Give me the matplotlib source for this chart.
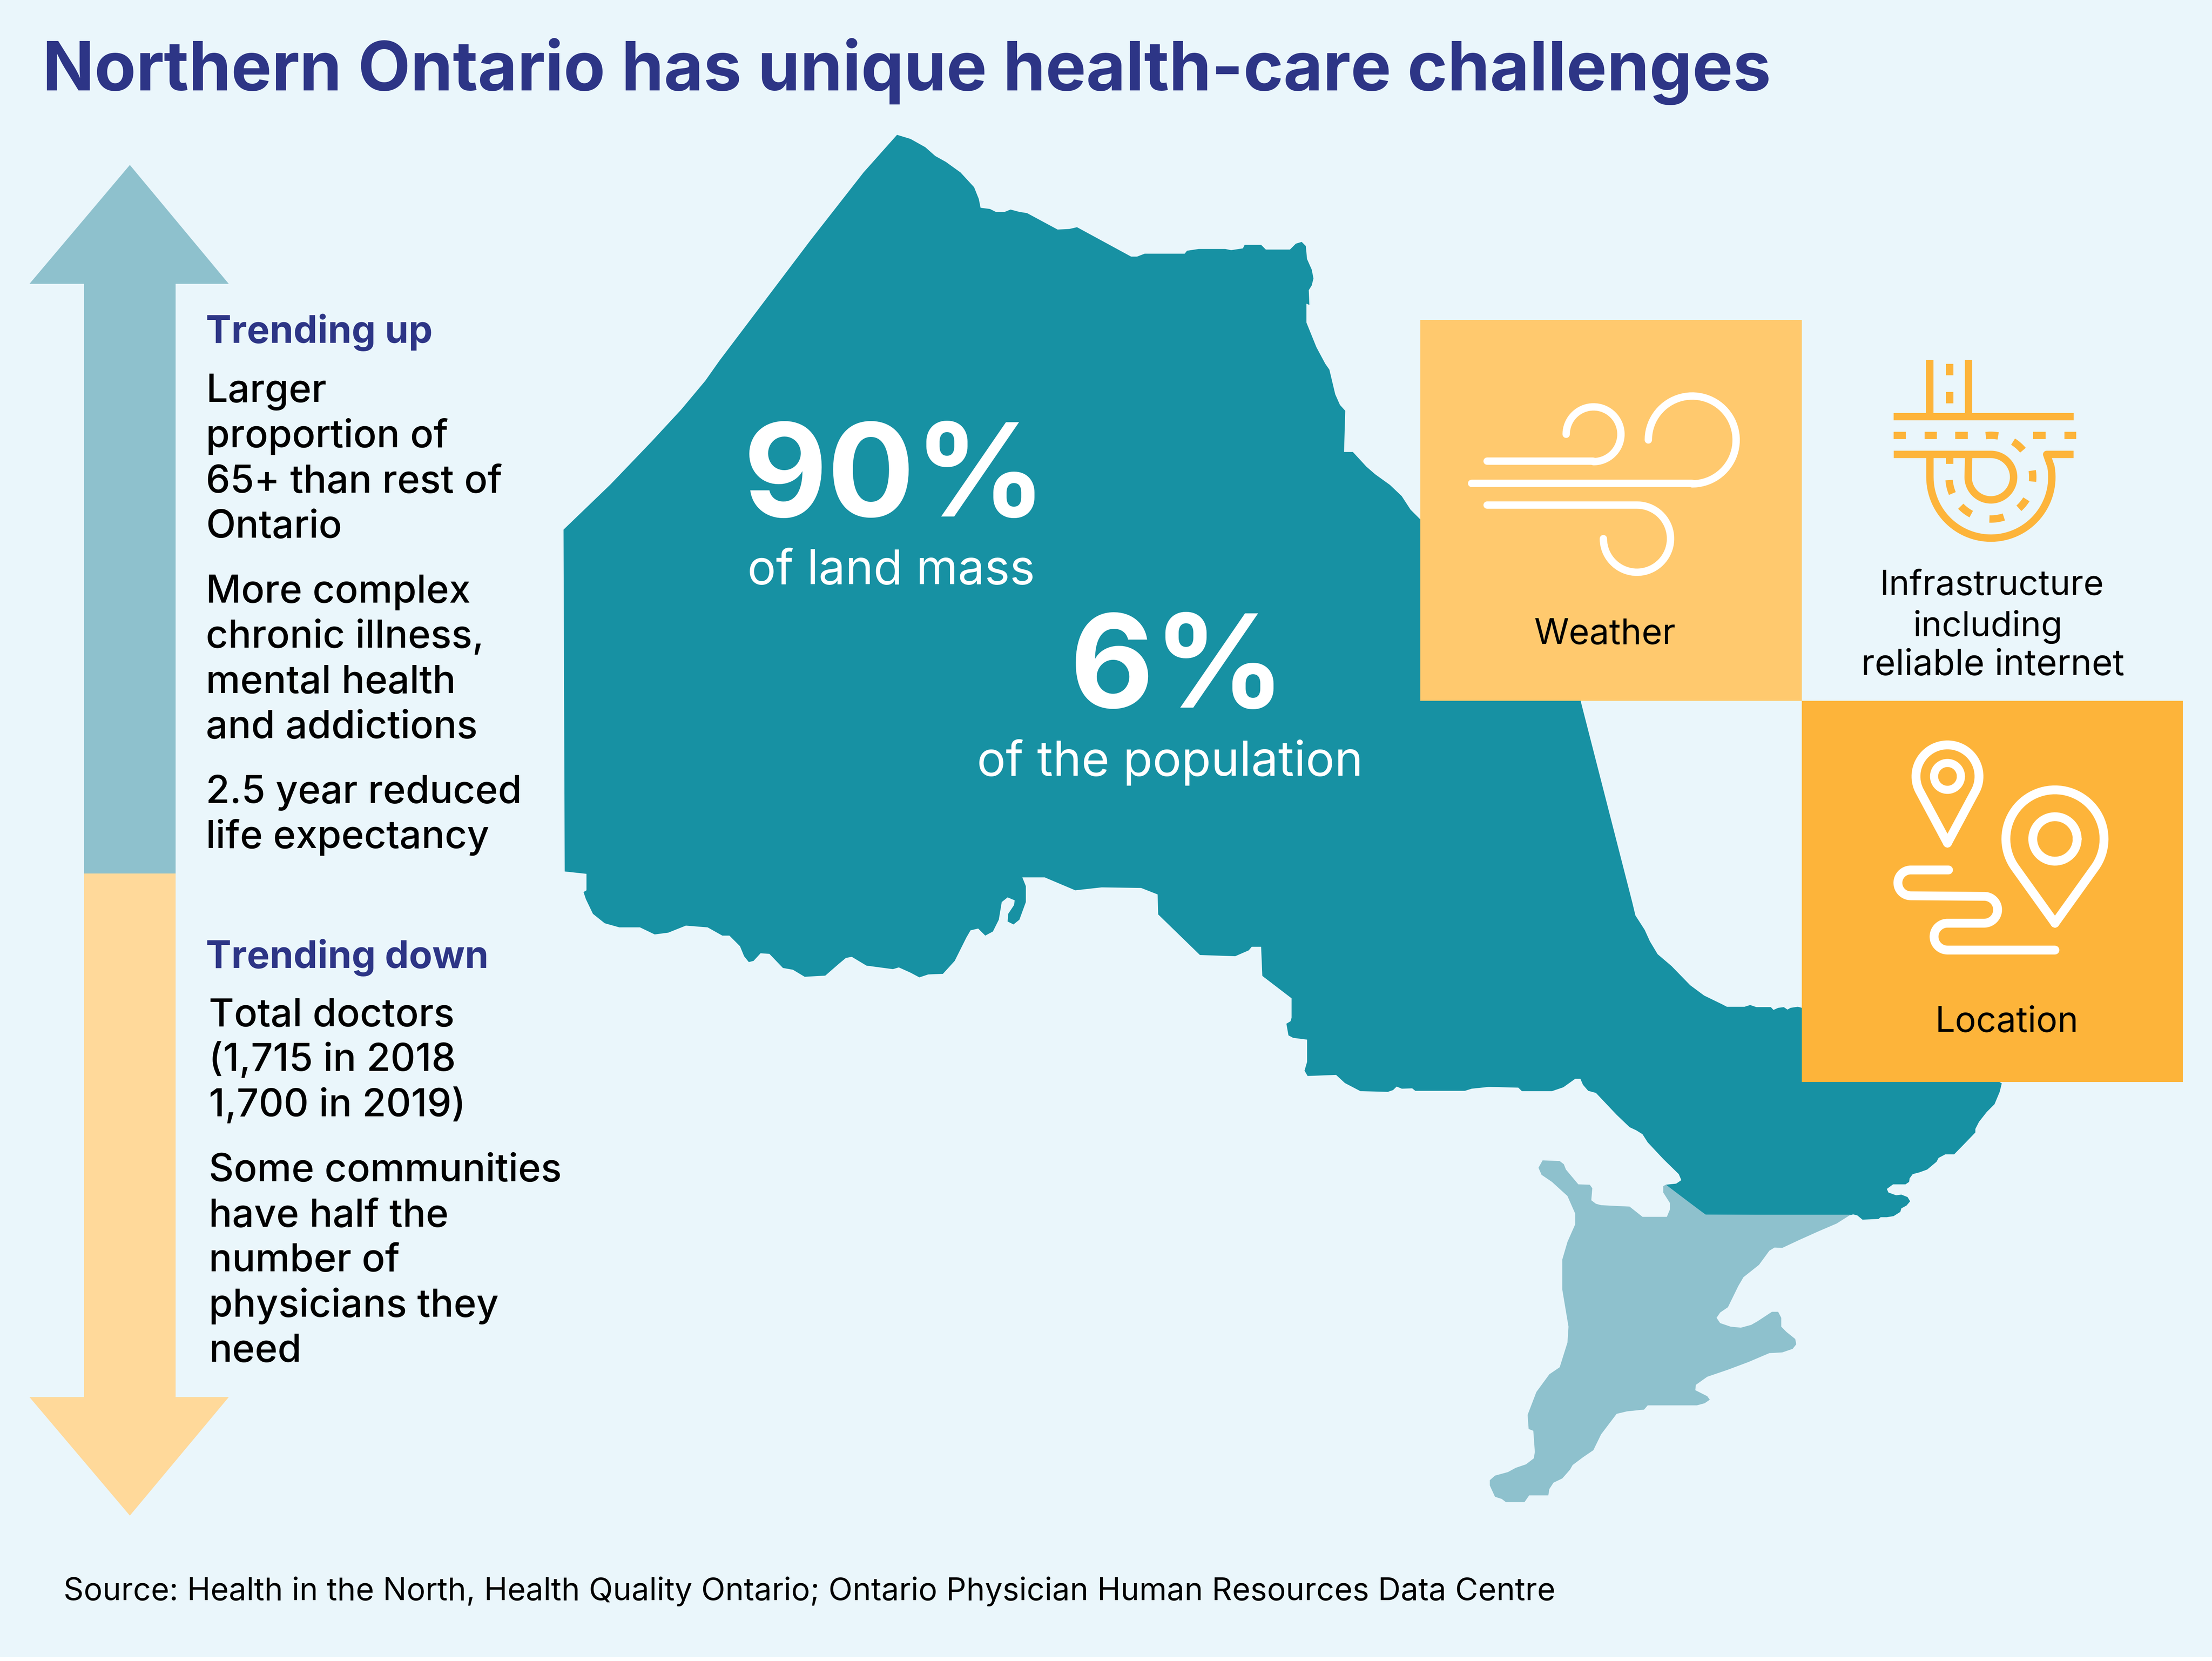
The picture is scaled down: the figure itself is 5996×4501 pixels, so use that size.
import matplotlib
matplotlib.use('Agg')
import matplotlib.pyplot as plt
import numpy as np
from matplotlib.patches import Polygon, Rectangle

BG = '#EAF6FB'
TEAL = '#1791A3'
PALE_TEAL = '#8EC1CD'
PALE_ORANGE = '#FFD99A'
LIGHT_ORANGE = '#FFC96E'
ORANGE = '#FDB43A'
NAVY = '#2D3586'

plt.rcParams['font.family'] = ['Inter', 'Lato', 'DejaVu Sans']

NORTH_WEST = [
    (647, 41), (670, 48), (695, 62), (712, 77), (730, 87), (755, 105), (778, 130), (786, 150),
    (789, 165), (805, 167), (815, 172), (830, 172), (840, 168), (855, 172), (868, 174), (920, 202),
    (940, 201), (953, 198), (1045, 248), (1055, 248), (1068, 243), (1136, 243), (1140, 238),
    (1160, 235), (1205, 235), (1215, 237), (1235, 234), (1238, 228), (1266, 228), (1274, 236),
    (1315, 236), (1325, 226), (1335, 223), (1342, 230), (1344, 252), (1352, 270), (1355, 285),
    (1352, 297), (1347, 305), (1348, 330), (1343, 328), (1343, 360), (1360, 402), (1375, 430),
    (1382, 440), (1392, 482), (1400, 500), (1409, 510), (1407, 580), (1422, 580), (1445, 605),
    (1460, 618), (1485, 636), (1505, 655), (1520, 678), (1537, 695), (1600, 800), (1820, 1000),
]
NORTH_EAST_COAST = [
    (346, 785), (446, 1175), (452, 1200), (470, 1228), (480, 1250), (495, 1275), (522, 1298),
    (558, 1335), (585, 1355), (620, 1372),
]
NORTH_SOUTH_COAST = [
    (913, 134), (947, 134), (958, 129), (970, 135), (998, 135),
    (1003, 143), (1012, 137), (1023, 135), (1030, 142), (1036, 137), (1050, 134), (1058, 137),
    (1200, 137), (1444, 351), (1440, 375), (1430, 410), (1415, 432), (1400, 460), (1393, 480),
    (1393, 490), (1370, 525), (1352, 552), (1335, 552), (1322, 562), (1318, 573), (1300, 595),
    (1285, 603), (1272, 608), (1266, 620), (1265, 630), (1258, 637), (1234, 637), (1222, 650),
    (1225, 660), (1240, 668), (1250, 666), (1262, 673), (1267, 685), (1260, 697), (1250, 705),
    (1248, 715), (1235, 727), (1222, 730), (1210, 730), (1206, 735), (1175, 737), (1165, 725),
    (1157, 722), (1152, 724), (872, 723), (850, 700), (795, 638), (815, 635), (825, 625),
    (820, 608), (790, 565), (760, 518), (750, 495), (738, 484), (725, 475), (700, 440), (660, 378),
    (645, 372), (635, 355), (630, 338), (620, 338), (597, 362), (575, 373), (517, 373), (510, 363),
    (453, 361), (420, 366), (407, 372), (311, 372), (305, 365), (285, 366), (275, 360), (268, 370),
    (258, 375), (205, 373), (175, 350), (158, 327), (103, 330), (97, 315), (102, 290), (102, 227),
    (75, 222), (66, 215), (62, 182), (70, 175), (72, 165), (72, 110), (16, 47), (15, 0),
]
NORTH_LAKE_COAST = [
    (1318, 1508), (1268, 1470), (1266, 1421), (1250, 1421), (1245, 1427), (1222, 1437), (1162, 1435),
    (1091, 1366), (1090, 1332), (1062, 1321), (995, 1320), (950, 1325), (898, 1303), (860, 1303),
    (866, 1318), (866, 1345), (855, 1375), (845, 1383), (835, 1378), (836, 1365), (846, 1350),
    (847, 1342), (835, 1337), (825, 1345), (820, 1375), (810, 1395), (797, 1402), (785, 1390),
    (772, 1393), (765, 1405), (745, 1445), (725, 1467), (700, 1468), (685, 1473), (670, 1465),
    (650, 1456), (640, 1459), (595, 1453), (570, 1438), (560, 1440), (548, 1450), (525, 1470),
    (490, 1472), (470, 1460), (453, 1457), (430, 1433), (415, 1432), (403, 1445), (395, 1447),
    (387, 1437), (380, 1420), (362, 1402), (350, 1402), (325, 1388), (288, 1385), (258, 1397),
    (235, 1400), (210, 1388), (175, 1388), (150, 1381), (130, 1365), (118, 1340), (114, 1328),
    (119, 1325), (119, 1297), (82, 1293), (80, 712), (160, 635), (230, 562), (280, 508), (321, 459),
    (345, 425), (500, 220), (590, 105),
]
SOUTH = [
    (557, 569), (590, 571), (598, 580), (602, 595), (626, 637), (648, 638), (653, 648), (651, 682),
    (660, 692), (670, 696), (725, 700), (750, 729), (797, 729), (803, 708), (803, 690), (790, 660),
    (790, 642), (795, 638), (872, 723), (1152, 723), (1125, 748), (1090, 770), (1052, 795),
    (1020, 817), (1005, 816), (995, 825), (975, 865), (945, 900), (935, 925), (915, 985), (900, 1000),
    (893, 1015), (900, 1030), (920, 1040), (940, 1043), (960, 1035), (972, 1025), (1000, 998),
    (1012, 998), (1018, 1015), (1018, 1040), (1028, 1055), (1045, 1075), (1047, 1090), (1040, 1103),
    (1020, 1113), (995, 1115), (955, 1140), (915, 1162), (875, 1182), (853, 1205), (852, 1220),
    (875, 1237), (880, 1247), (870, 1257), (855, 1263), (760, 1263), (753, 1275), (720, 1280),
    (700, 1287), (670, 1345), (655, 1390), (635, 1410), (615, 1432), (610, 1445), (595, 1470),
    (578, 1482), (570, 1500), (568, 1518), (531, 1518), (522, 1537), (486, 1537), (478, 1528),
    (465, 1522), (455, 1490), (455, 1475), (465, 1462), (490, 1452), (505, 1440), (525, 1430),
    (540, 1413), (542, 1395), (539, 1335), (530, 1330), (528, 1290), (545, 1225), (570, 1175),
    (590, 1155), (605, 1085), (607, 1040), (595, 935), (595, 850), (605, 800), (620, 750), (620, 720),
    (605, 670), (575, 630), (555, 610), (549, 590),
]

TITLE = 'Northern Ontario has unique health-care challenges'
UP_HEADING = 'Trending up'
UP_LINES = ['Larger', 'proportion of', '65+ than rest of', 'Ontario',
            'More complex', 'chronic illness,', 'mental health', 'and addictions',
            '2.5 year reduced', 'life expectancy']
UP_BASELINES = [285, 317, 349, 381, 427, 459, 491, 523, 569, 601]
DOWN_HEADING = 'Trending down'
DOWN_LINES = ['Total doctors', '(1,715 in 2018', '1,700 in 2019)',
              'Some communities', 'have half the', 'number of', 'physicians they', 'need']
DOWN_BASELINES = [727, 759, 791, 837, 869, 901, 933, 965]
SOURCE = 'Source: Health in the North, Health Quality Ontario; Ontario Physician Human Resources Data Centre'


def crop1(pts):
    return [(3800 + x / 0.714, 800 + y / 0.714) for x, y in pts]


def crop2(pts):
    return [(1400 + x / 0.6272, 300 + y / 0.6272) for x, y in pts]


def crop3(pts):
    # this crop came back stretched, x and y scales differ
    return [(3400 + x / 0.7127, 2600 + y / 1.0453) for x, y in pts]


def arc(cx, cy, r, a0, a1):
    # angles in degrees, y pointing down
    a = np.radians(np.linspace(a0, a1, 60))
    return list(zip(cx + r * np.cos(a), cy + r * np.sin(a)))


def stroke(ax, pts, color='white', lw=20, cap='round'):
    xy = np.array(crop1(pts))
    ax.plot(xy[:, 0], xy[:, 1], color=color, lw=lw * 0.72, solid_capstyle=cap,
            solid_joinstyle='round', zorder=5)


fig = plt.figure(figsize=(5996 / 100, 4501 / 100), dpi=100, facecolor='white')
ax = fig.add_axes([0, 0, 1, 1])
ax.set_xlim(0, 5996)
ax.set_ylim(4501, 0)
ax.axis('off')
ax.add_patch(Rectangle((0, 0), 5996, 4490, color=BG, lw=0, zorder=0))

# map
north = (crop2(NORTH_WEST) + crop1(NORTH_EAST_COAST) + crop3(NORTH_SOUTH_COAST)
         + crop2(NORTH_LAKE_COAST))
ax.add_patch(Polygon(north, closed=True, color=TEAL, lw=0, zorder=1))
ax.add_patch(Polygon(crop3(SOUTH), closed=True, color=PALE_TEAL, lw=0, zorder=1))

# arrow
ax.add_patch(Polygon([(352, 447), (620, 769), (476, 769), (476, 2367), (228, 2367), (228, 769), (80, 769)],
                     closed=True, color=PALE_TEAL, lw=0, zorder=2))
ax.add_patch(Polygon([(228, 2367), (476, 2367), (476, 3786), (620, 3786), (352, 4107), (80, 3786), (228, 3786)],
                     closed=True, color=PALE_ORANGE, lw=0, zorder=2))

# boxes
ax.add_patch(Rectangle((3850, 867), 1034, 1032, color=LIGHT_ORANGE, lw=0, zorder=3))
ax.add_patch(Rectangle((4884, 1899), 1033, 1033, color=ORANGE, lw=0, zorder=3))

# wind icon
stroke(ax, [(165, 321), (370, 321)] + arc(371, 269, 53, 90, -180))
stroke(ax, [(135, 364), (562, 364)] + arc(562, 280, 85, 90, -180))
stroke(ax, [(165, 406), (455, 406)] + arc(455, 471, 65, -90, 180))

# infrastructure icon
stroke(ax, [(1022, 125), (1022, 235)], ORANGE, cap='butt')
stroke(ax, [(1097, 125), (1097, 235)], ORANGE, cap='butt')
stroke(ax, [(952, 235), (1300, 235)], ORANGE, cap='butt')
stroke(ax, [(1060, 133), (1060, 155)], ORANGE, cap='butt')
stroke(ax, [(1060, 187), (1060, 209)], ORANGE, cap='butt')
stroke(ax, [(1060, 315), (1060, 326)], ORANGE, cap='butt')
for x0, x1 in [(952, 975), (1012, 1035), (1071, 1095), (1222, 1246), (1282, 1305)]:
    stroke(ax, [(x0, 271), (x1, 271)], ORANGE, cap='butt')
stroke(ax, [(952, 308), (1140, 308)] + arc(1140, 352, 44, -90, 180) + [(1097, 308)], ORANGE, cap='butt')
stroke(ax, [(1022, 308)] + arc(1140, 352, 118, 180, -10) + [(1248, 308), (1300, 308)], ORANGE, cap='butt')
for a0, a1 in [(-97, -80), (-58, -40), (-9, 6), (32, 48), (72, 92), (118, 136), (157, 176)]:
    stroke(ax, arc(1140, 352, 81, a0, a1), ORANGE, cap='butt')

# location icon
stroke(ax, [(1056, 1060)] + arc(1056, 931, 61, 154, 386) + [(1056, 1060)], lw=24)
stroke(ax, arc(1056, 931, 26, 0, 360), lw=22)
stroke(ax, [(1264, 1215)] + arc(1264, 1052, 95, 146, 394) + [(1264, 1215)], lw=24)
stroke(ax, arc(1264, 1052, 43, 0, 360), lw=24)
stroke(ax, [(1058, 1112), (985, 1112)] + arc(985, 1137, 25, -90, -270) + [(1127, 1163)]
       + arc(1127, 1189, 26, -90, 90) + [(1056, 1215)] + arc(1056, 1241, 26, -90, -270) + [(1264, 1267)], lw=24)

# text
S = 3.824
ax.text(30 * S, 64 * S, TITLE, color=NAVY, fontsize=133, fontweight='bold', va='baseline', zorder=6)
ax.text(146 * S, 243 * S, UP_HEADING, color=NAVY, fontsize=74.5, fontweight='bold', va='baseline', zorder=6)
ax.text(146 * S, 686 * S, DOWN_HEADING, color=NAVY, fontsize=74.5, fontweight='bold', va='baseline', zorder=6)
for line, y in zip(UP_LINES, UP_BASELINES):
    ax.text(146 * S, y * S, line, color='black', fontsize=75.5, fontweight='medium', va='baseline', zorder=6)
for line, y in zip(DOWN_LINES, DOWN_BASELINES):
    ax.text(148 * S, y * S, line, color='black', fontsize=75.5, fontweight='medium', va='baseline', zorder=6)
ax.text(45 * S, 1134 * S, SOURCE, color='black', fontsize=61.3, va='baseline', zorder=6)

ax.text(2015, 1400, '90%', color='white', fontsize=253, fontweight='bold', va='baseline', zorder=6)
ax.text(2026, 1583, 'of land mass', color='white', fontsize=93, va='baseline', zorder=6)
ax.text(2900, 1918, '6%', color='white', fontsize=253, fontweight='bold', va='baseline', zorder=6)
ax.text(2648, 2102, 'of the population', color='white', fontsize=94, va='baseline', zorder=6)

ax.text(4350, 1745, 'Weather', color='black', fontsize=69, ha='center', va='baseline', zorder=6)
ax.text(5400, 1612, 'Infrastructure', color='black', fontsize=68, ha='center', va='baseline', zorder=6)
ax.text(5388, 1724, 'including', color='black', fontsize=68, ha='center', va='baseline', zorder=6)
ax.text(5402, 1829, 'reliable internet', color='black', fontsize=70, ha='center', va='baseline', zorder=6)
ax.text(5440, 2796, 'Location', color='black', fontsize=69, ha='center', va='baseline', zorder=6)

fig.savefig('out.png', dpi=100, facecolor='white')
